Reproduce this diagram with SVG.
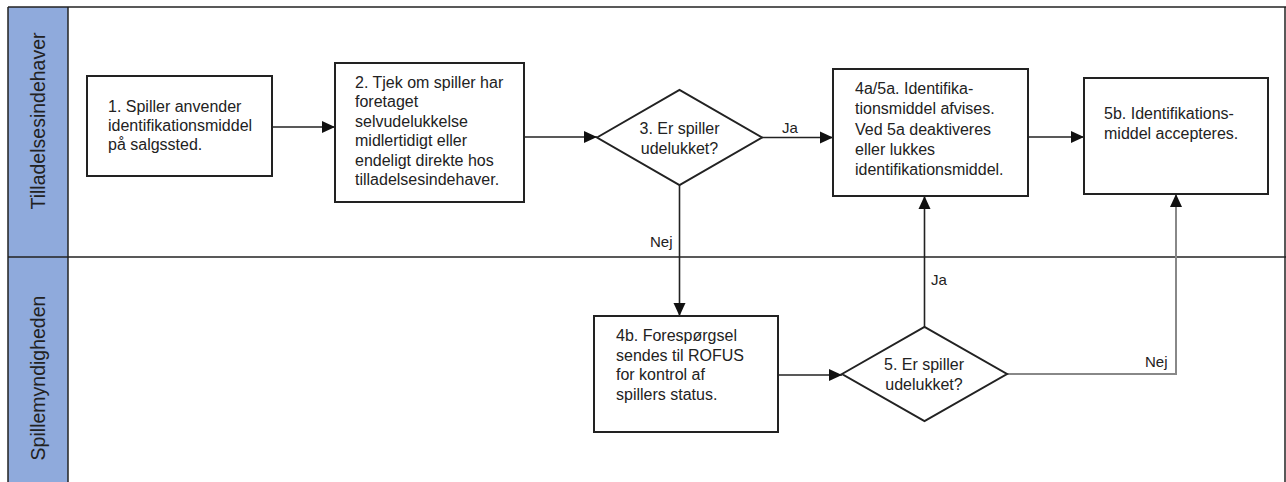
<svg xmlns="http://www.w3.org/2000/svg" width="1286" height="482" viewBox="0 0 1286 482">
<defs>
<style>
.lanehdr{fill:#8FAADC;stroke:none}
.frame{stroke:#222;stroke-width:1.5;fill:none}
.box{fill:#fff;stroke:#222;stroke-width:2}
.t{font-family:"Liberation Sans",Arial,sans-serif;font-size:16px;fill:#222}
.lane{font-family:"Liberation Sans",Arial,sans-serif;font-size:19.5px;fill:#222;text-anchor:middle}
.lbl{font-family:"Liberation Sans",Arial,sans-serif;font-size:15px;fill:#222}
.c{fill:none;stroke:#222;stroke-width:1.6}
.cg{fill:none;stroke:#888;stroke-width:2}
</style>
<marker id="arr" markerUnits="userSpaceOnUse" markerWidth="14" markerHeight="14" viewBox="0 0 14 14" refX="13" refY="7" orient="auto">
<path d="M0,1 L13,7 L0,13 Z" fill="#111"/>
</marker>
</defs>

<g id="lanes">
<rect class="lanehdr" x="8" y="7" width="60" height="475"/>
<line class="frame" x1="8" y1="7" x2="1286" y2="7"/>
<line class="frame" x1="8" y1="7" x2="8" y2="482"/>
<line class="frame" x1="68" y1="7" x2="68" y2="482"/>
<line class="frame" x1="1285" y1="7" x2="1285" y2="482"/>
<line class="frame" x1="8" y1="257" x2="1286" y2="257"/>
<text class="lane" transform="translate(45,121) rotate(-90)">Tilladelsesindehaver</text>
<text class="lane" transform="translate(45,378) rotate(-90)">Spillemyndigheden</text>
</g>

<g id="connectors">
<path class="c" d="M272,127 H335" marker-end="url(#arr)"/>
<path class="c" d="M524,137 H597" marker-end="url(#arr)"/>
<path class="c" d="M762,137.5 H833" marker-end="url(#arr)"/>
<path class="c" d="M1028,137 H1084" marker-end="url(#arr)"/>
<path class="c" d="M679.5,185 V316" marker-end="url(#arr)"/>
<path class="c" d="M778,375 H842" marker-end="url(#arr)"/>
<path class="c" d="M924.5,327 V196" marker-end="url(#arr)"/>
<path class="cg" d="M1007,374 H1176 V194" marker-end="url(#arr)"/>
<text class="lbl" x="782" y="133">Ja</text>
<text class="lbl" x="650" y="247">Nej</text>
<text class="lbl" x="931" y="285">Ja</text>
<text class="lbl" x="1145" y="367">Nej</text>
</g>

<g id="n1">
<rect class="box" x="87" y="76" width="185" height="100"/>
<text class="t" x="108" y="112">1. Spiller anvender</text>
<text class="t" x="108" y="131">identifikationsmiddel</text>
<text class="t" x="108" y="150">på salgssted.</text>
</g>

<g id="n2">
<rect class="box" x="335" y="63" width="189" height="139"/>
<text class="t" x="355" y="87.5">2. Tjek om spiller har</text>
<text class="t" x="355" y="107">foretaget</text>
<text class="t" x="355" y="126.5">selvudelukkelse</text>
<text class="t" x="355" y="146">midlertidigt eller</text>
<text class="t" x="355" y="165.5">endeligt direkte hos</text>
<text class="t" x="355" y="185">tilladelsesindehaver.</text>
</g>

<g id="n3">
<polygon class="box" points="597,137.5 679.5,90 762,137.5 679.5,185"/>
<text class="t" x="679.5" y="134" text-anchor="middle">3. Er spiller</text>
<text class="t" x="679.5" y="153.5" text-anchor="middle">udelukket?</text>
</g>

<g id="n4a">
<rect class="box" x="833" y="69" width="195" height="127"/>
<text class="t" x="855" y="94">4a/5a. Identifika-</text>
<text class="t" x="855" y="114.2">tionsmiddel afvises.</text>
<text class="t" x="855" y="134.5">Ved 5a deaktiveres</text>
<text class="t" x="855" y="154.7">eller lukkes</text>
<text class="t" x="855" y="175">identifikationsmiddel.</text>
</g>

<g id="n5b">
<rect class="box" x="1084" y="78" width="184" height="116"/>
<text class="t" x="1104" y="119">5b. Identifikations-</text>
<text class="t" x="1104" y="139">middel accepteres.</text>
</g>

<g id="n4b">
<rect class="box" x="594" y="316" width="184" height="116"/>
<text class="t" x="616" y="341">4b. Forespørgsel</text>
<text class="t" x="616" y="360.7">sendes til ROFUS</text>
<text class="t" x="616" y="380.3">for kontrol af</text>
<text class="t" x="616" y="400">spillers status.</text>
</g>

<g id="n5">
<polygon class="box" points="842,374 924.5,327 1007,374 924.5,421"/>
<text class="t" x="924" y="370" text-anchor="middle">5. Er spiller</text>
<text class="t" x="924" y="389.5" text-anchor="middle">udelukket?</text>
</g>
</svg>
